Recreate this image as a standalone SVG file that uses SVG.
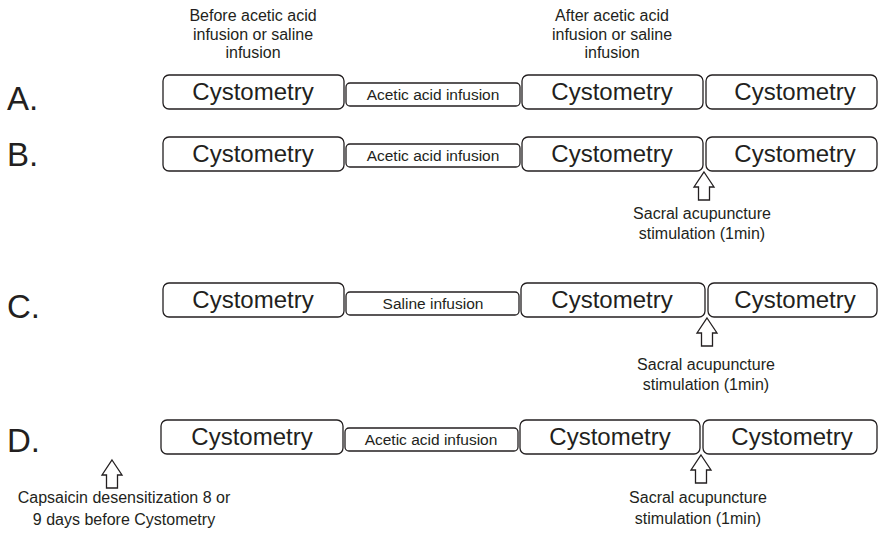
<svg xmlns="http://www.w3.org/2000/svg" width="878" height="536" viewBox="0 0 878 536">
<style>
text{font-family:"Liberation Sans",Arial,sans-serif;fill:#231f20;text-anchor:middle}
.big{font-size:24px}
.sm{font-size:15.5px}
.lab{font-size:33px;text-anchor:start}
.note{font-size:16px}
.box{fill:#fff;stroke:#231f20;stroke-width:1.3}
.arr{fill:#fff;stroke:#231f20;stroke-width:1.3;stroke-linejoin:miter}
</style>
<defs>
<path id="up" d="M0,0 L10,15 L5.5,15 L5.5,28 L-5.5,28 L-5.5,15 L-10,15 Z"/>
</defs>
<g id="header">
<text class="note" x="253" y="21">Before acetic acid</text>
<text class="note" x="253" y="40">infusion or saline</text>
<text class="note" x="253" y="58">infusion</text>
<text class="note" x="612" y="21">After acetic acid</text>
<text class="note" x="612" y="40">infusion or saline</text>
<text class="note" x="612" y="58">infusion</text>
</g>
<g id="labels">
<text class="lab" x="7" y="110">A.</text>
<text class="lab" x="7" y="166">B.</text>
<text class="lab" x="7" y="318">C.</text>
<text class="lab" x="7" y="452">D.</text>
</g>
<g id="rowA">
<g id="A1"><rect class="box" x="163" y="75" width="181" height="34" rx="6"/><text class="big" x="253" y="100">Cystometry</text></g>
<g id="A2"><rect class="box" x="346" y="83" width="174" height="23" rx="4"/><text class="sm" x="433" y="100">Acetic acid infusion</text></g>
<g id="A3"><rect class="box" x="522" y="75" width="181" height="34" rx="6"/><text class="big" x="612" y="100">Cystometry</text></g>
<g id="A4"><rect class="box" x="706" y="75" width="171" height="34" rx="6"/><text class="big" x="795" y="100">Cystometry</text></g>
</g>
<g id="rowB">
<g id="B1"><rect class="box" x="163" y="137" width="181" height="34" rx="6"/><text class="big" x="253" y="162">Cystometry</text></g>
<g id="B2"><rect class="box" x="346" y="144" width="174" height="23" rx="4"/><text class="sm" x="433" y="161">Acetic acid infusion</text></g>
<g id="B3"><rect class="box" x="522" y="137" width="181" height="34" rx="6"/><text class="big" x="612" y="162">Cystometry</text></g>
<g id="B4"><rect class="box" x="706" y="137" width="171" height="34" rx="6"/><text class="big" x="795" y="162">Cystometry</text></g>
<g id="B5"><text class="note" x="702" y="219">Sacral acupuncture</text><text class="note" x="702" y="239">stimulation (1min)</text></g>
</g>
<g id="rowC">
<g id="C1"><rect class="box" x="163" y="283" width="181" height="34" rx="6"/><text class="big" x="253" y="308">Cystometry</text></g>
<g id="C2"><rect class="box" x="346" y="292" width="173" height="23" rx="4"/><text class="sm" x="433" y="309">Saline infusion</text></g>
<g id="C3"><rect class="box" x="521" y="283" width="184" height="34" rx="6"/><text class="big" x="612" y="308">Cystometry</text></g>
<g id="C4"><rect class="box" x="708" y="283" width="169" height="34" rx="6"/><text class="big" x="795" y="308">Cystometry</text></g>
<g id="C5"><text class="note" x="706" y="370">Sacral acupuncture</text><text class="note" x="706" y="390">stimulation (1min)</text></g>
</g>
<g id="rowD">
<g id="D1"><rect class="box" x="161" y="420" width="182" height="34" rx="6"/><text class="big" x="252" y="445">Cystometry</text></g>
<g id="D2"><rect class="box" x="345" y="428" width="173" height="23" rx="4"/><text class="sm" x="431" y="445">Acetic acid infusion</text></g>
<g id="D3"><rect class="box" x="520" y="420" width="180" height="34" rx="6"/><text class="big" x="610" y="445">Cystometry</text></g>
<g id="D4"><rect class="box" x="703" y="420" width="174" height="34" rx="6"/><text class="big" x="792" y="445">Cystometry</text></g>
<g id="D5"><text class="note" x="698" y="503">Sacral acupuncture</text><text class="note" x="698" y="524">stimulation (1min)</text></g>
<g id="D6"><text class="note" x="124" y="503">Capsaicin desensitization 8 or</text><text class="note" x="124" y="525">9 days before Cystometry</text></g>
</g>
<g id="connectors">
<use href="#up" class="arr" x="704" y="172"/>
<use href="#up" class="arr" x="707" y="318"/>
<use href="#up" class="arr" x="701" y="455"/>
<use href="#up" class="arr" x="112" y="460"/>
</g>
</svg>
